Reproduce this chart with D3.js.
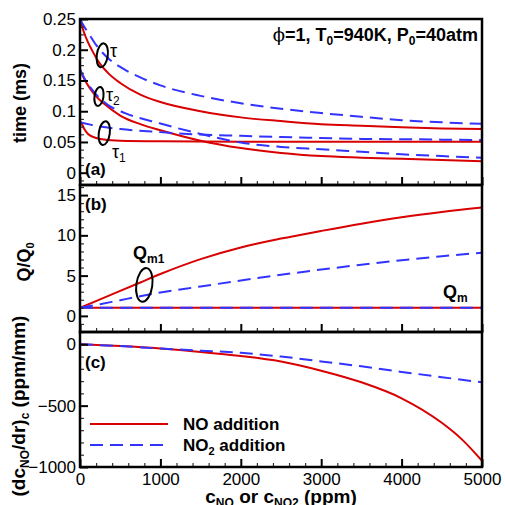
<!DOCTYPE html>
<html>
<head>
<meta charset="utf-8">
<script src="https://cdn.jsdelivr.net/npm/d3@7"></script>
<style>
  body { margin: 0; background: #fff; }
  text { font-family: "Liberation Sans", Arial, sans-serif; }
</style>
</head>
<body>
<div id="chart"></div>
<script>
// ---- data ----
const redTau   = [[0,0.25],[50,0.228],[100,0.212],[150,0.199],[250,0.177],[350,0.162],[500,0.146],[750,0.127],[1000,0.115],[1500,0.1],[2000,0.09],[2500,0.084],[3000,0.079],[3500,0.0765],[4000,0.074],[4500,0.072],[5000,0.071]];
const blueTau  = [[0,0.25],[50,0.238],[100,0.228],[200,0.208],[350,0.186],[500,0.172],[750,0.155],[1000,0.142],[1500,0.125],[2000,0.113],[2500,0.104],[3000,0.097],[3500,0.091],[4000,0.0855],[4500,0.082],[5000,0.0795]];
const redTau2  = [[0,0.168],[50,0.153],[125,0.137],[200,0.124],[300,0.112],[500,0.093],[750,0.079],[1000,0.069],[1500,0.052],[2000,0.040],[2500,0.032],[3000,0.027],[3500,0.0245],[4000,0.0225],[4500,0.0205],[5000,0.0185]];
const blueTau2 = [[0,0.168],[50,0.155],[190,0.129],[350,0.110],[560,0.097],[1000,0.080],[1500,0.063],[2000,0.049],[2500,0.042],[3000,0.038],[3500,0.034],[4000,0.030],[4500,0.027],[5000,0.0245]];
const redTau1  = [[0,0.083],[20,0.080],[50,0.072],[100,0.063],[200,0.0565],[300,0.054],[500,0.052],[1000,0.051],[2000,0.0505],[3000,0.0505],[4000,0.0505],[5000,0.0505]];
const blueTau1 = [[0,0.082],[250,0.075],[500,0.071],[1000,0.066],[1500,0.062],[2000,0.060],[2500,0.058],[3000,0.0565],[3500,0.055],[4000,0.0545],[4500,0.0538],[5000,0.053]];

const redQm1  = [[0,1.0],[250,2.05],[500,3.1],[750,4.15],[1000,5.2],[1500,7.05],[2000,8.5],[2500,9.6],[3000,10.55],[3500,11.45],[4000,12.25],[4500,12.9],[5000,13.45]];
const blueQm1 = [[0,1.0],[250,1.45],[500,1.95],[1000,2.9],[1500,3.65],[2000,4.4],[2500,5.1],[3000,5.75],[3500,6.35],[4000,6.9],[4500,7.4],[5000,7.85]];
const redQm   = [[0,1.0],[5000,1.0]];
const blueQm  = [[0,1.0],[5000,1.0]];

const redRate  = [[0,0],[500,-15],[1000,-35],[1500,-62],[2000,-95],[2500,-140],[3000,-215],[3500,-310],[4000,-440],[4500,-640],[4750,-775],[5000,-950]];
const blueRate = [[0,0],[500,-15],[1000,-35],[1500,-52],[2000,-70],[2500,-100],[3000,-140],[3500,-180],[4000,-225],[4500,-268],[5000,-310]];

const xTicks  = [0,1000,2000,3000,4000,5000];
const aTicks  = [0,0.05,0.1,0.15,0.2,0.25];
const bTicks  = [0,5,10,15];
const cTicks  = [0,-500,-1000];

// ---- layout ----
const W = 505, H = 505;
const left = 80, right = 482;
const red = "#d80000", blue = "#3333ff";
const dash = "13,7";

const svg = d3.select("#chart").append("svg")
  .attr("width", W).attr("height", H);

const x = d3.scaleLinear().domain([0, 5000]).range([left, right]);

const panels = [
  { top: 19,  bottom: 185, domain: [-0.02, 0.25], ticks: aTicks, minor: 0.0125, fmt: d => d3.format("~g")(d),
    series: [[redTau, red], [redTau2, red], [redTau1, red], [blueTau, blue], [blueTau2, blue], [blueTau1, blue]],
    tag: "(a)", tagY: 175 },
  { top: 185, bottom: 332, domain: [-2, 16.25], ticks: bTicks, minor: 1, fmt: d3.format("d"),
    series: [[redQm1, red], [redQm, red], [blueQm1, blue], [blueQm, blue]],
    tag: "(b)", tagY: 210 },
  { top: 332, bottom: 467, domain: [-1000, 100], ticks: cTicks, minor: 100, fmt: d3.format("d"),
    series: [[redRate, red], [blueRate, blue]],
    tag: "(c)", tagY: 368 }
];

panels.forEach((p, i) => {
  p.y = d3.scaleLinear().domain(p.domain).range([p.bottom, p.top]);
  const g = svg.append("g");

  const clipId = "clip" + i;
  svg.append("clipPath").attr("id", clipId).append("rect")
    .attr("x", left).attr("y", p.top).attr("width", right - left).attr("height", p.bottom - p.top);

  const line = d3.line().x(d => x(d[0])).y(d => p.y(d[1])).curve(d3.curveMonotoneX);
  p.series.forEach(([data, color]) => {
    g.append("path")
      .attr("clip-path", `url(#${clipId})`)
      .attr("d", line(data))
      .attr("fill", "none")
      .attr("stroke", color)
      .attr("stroke-width", 2)
      .attr("stroke-dasharray", color === blue ? dash : null);
  });

  // x ticks along bottom, pointing inward
  const xMinor = d3.range(0, 5001, 200).filter(v => v % 1000 !== 0);
  g.append("g").attr("transform", `translate(0,${p.bottom})`)
    .call(d3.axisBottom(x).tickValues(xMinor).tickSize(-4).tickFormat(""))
    .call(a => a.select(".domain").remove())
    .call(a => a.selectAll("line").attr("stroke", "#333").attr("stroke-width", 1.2));
  g.append("g").attr("transform", `translate(0,${p.bottom})`)
    .call(d3.axisBottom(x).tickValues(xTicks).tickSize(-8).tickFormat(i === 2 ? d3.format("d") : ""))
    .call(a => a.select(".domain").remove())
    .call(a => a.selectAll("line").attr("stroke", "#000").attr("stroke-width", 2))
    .call(a => a.selectAll("text").attr("y", 6).attr("font-size", 17).attr("fill", "#000")
      .attr("font-family", "Liberation Sans, Arial, sans-serif"));

  // y ticks along left, pointing inward
  const [lo, hi] = p.domain;
  const yMinor = d3.range(Math.ceil(lo / p.minor) * p.minor, hi + 1e-9, p.minor)
    .filter(v => !p.ticks.some(t => Math.abs(t - v) < 1e-9));
  g.append("g").attr("transform", `translate(${left},0)`)
    .call(d3.axisLeft(p.y).tickValues(yMinor).tickSize(-4).tickFormat(""))
    .call(a => a.select(".domain").remove())
    .call(a => a.selectAll("line").attr("stroke", "#333").attr("stroke-width", 1.2));
  g.append("g").attr("transform", `translate(${left},0)`)
    .call(d3.axisLeft(p.y).tickValues(p.ticks).tickSize(-8).tickFormat(p.fmt))
    .call(a => a.select(".domain").remove())
    .call(a => a.selectAll("line").attr("stroke", "#000").attr("stroke-width", 2))
    .call(a => a.selectAll("text").attr("x", -4).attr("font-size", 17).attr("fill", "#000")
      .attr("font-family", "Liberation Sans, Arial, sans-serif"));

  // frame
  g.append("rect")
    .attr("x", left).attr("y", p.top)
    .attr("width", right - left).attr("height", p.bottom - p.top)
    .attr("fill", "none").attr("stroke", "#000").attr("stroke-width", 2.5);

  g.append("text").attr("x", 85).attr("y", p.tagY)
    .attr("font-size", 17).attr("font-weight", "bold").text(p.tag);
});

const [pa, pb, pc] = panels;

// ---- annotations ----
function sub(sel, main, s, size, shift) {
  sel.append("tspan").text(main);
  sel.append("tspan").attr("font-size", size).attr("baseline-shift", shift || "-35%").text(s);
}

const ellipses = [
  [pa, 277, 0.191, 5.5, 12],
  [pa, 236, 0.124, 4.5, 9.5],
  [pa, 302, 0.0645, 5.5, 12],
  [pb, 800, 3.84, 8, 17]
];
ellipses.forEach(([p, cx, cy, rx, ry]) => {
  svg.append("ellipse")
    .attr("cx", x(cx)).attr("cy", p.y(cy)).attr("rx", rx).attr("ry", ry)
    .attr("transform", `rotate(8,${x(cx)},${p.y(cy)})`)
    .attr("fill", "none").attr("stroke", "#000").attr("stroke-width", 2);
});

svg.append("text").attr("x", x(373)).attr("y", pa.y(0.188))
  .attr("font-size", 18).attr("font-family", "DejaVu Serif, serif").text("τ");
svg.append("text").attr("x", x(323)).attr("y", pa.y(0.117))
  .attr("font-size", 18).attr("font-family", "DejaVu Serif, serif")
  .call(s => sub(s, "τ", "2", 12));
svg.append("text").attr("x", x(398)).attr("y", pa.y(0.024))
  .attr("font-size", 18).attr("font-family", "DejaVu Serif, serif")
  .call(s => sub(s, "τ", "1", 12));

svg.append("text").attr("x", x(659)).attr("y", pb.y(7.06))
  .attr("font-size", 18).attr("font-weight", "bold")
  .call(s => sub(s, "Q", "m1", 12));
svg.append("text").attr("x", x(4515)).attr("y", pb.y(2.23))
  .attr("font-size", 18).attr("font-weight", "bold")
  .call(s => sub(s, "Q", "m", 12));

svg.append("text").attr("x", 478).attr("y", 41)
  .attr("text-anchor", "end").attr("font-size", 18).attr("font-weight", "bold")
  .call(s => {
    s.append("tspan").attr("font-weight", "normal").attr("font-family", "DejaVu Serif, serif").text("ϕ");
    s.append("tspan").text("=1, T");
    s.append("tspan").attr("font-size", 12).attr("baseline-shift", "-35%").text("0");
    s.append("tspan").text("=940K, P");
    s.append("tspan").attr("font-size", 12).attr("baseline-shift", "-35%").text("0");
    s.append("tspan").text("=40atm");
  });

// ---- legend ----
const legend = [["NO addition", red, null], ["NO2 addition", blue, dash]];
legend.forEach(([label, color, dsh], i) => {
  const ly = 424 + i * 21;
  svg.append("line").attr("x1", 90).attr("x2", 168).attr("y1", ly).attr("y2", ly)
    .attr("stroke", color).attr("stroke-width", 2).attr("stroke-dasharray", dsh);
  const t = svg.append("text").attr("x", 183).attr("y", ly + 6)
    .attr("font-size", 17).attr("font-weight", "bold");
  if (i === 0) t.text(label);
  else {
    t.append("tspan").text("NO");
    t.append("tspan").attr("font-size", 11).attr("baseline-shift", "-35%").text("2");
    t.append("tspan").text(" addition");
  }
});

// ---- axis titles ----
svg.append("text").attr("transform", `translate(26,${103}) rotate(-90)`)
  .attr("text-anchor", "middle").attr("font-size", 18).attr("font-weight", "bold")
  .text("time (ms)");
svg.append("text").attr("transform", `translate(30,${262}) rotate(-90)`)
  .attr("text-anchor", "middle").attr("font-size", 18).attr("font-weight", "bold")
  .call(s => sub(s, "Q/Q", "0", 11));
svg.append("text").attr("transform", `translate(25,${406}) rotate(-90)`)
  .attr("text-anchor", "middle").attr("font-size", 19).attr("font-weight", "bold")
  .call(s => {
    s.append("tspan").text("(dc");
    s.append("tspan").attr("font-size", 12).attr("baseline-shift", "-35%").text("NO");
    s.append("tspan").text("/dr)");
    s.append("tspan").attr("font-size", 12).attr("baseline-shift", "-35%").text("c");
    s.append("tspan").text(" (ppm/mm)");
  });
svg.append("text").attr("x", (left + right) / 2).attr("y", 503)
  .attr("text-anchor", "middle").attr("font-size", 19).attr("font-weight", "bold")
  .call(s => {
    s.append("tspan").text("c");
    s.append("tspan").attr("font-size", 12).attr("baseline-shift", "-35%").text("NO");
    s.append("tspan").text(" or c");
    s.append("tspan").attr("font-size", 12).attr("baseline-shift", "-35%").text("NO2");
    s.append("tspan").text(" (ppm)");
  });
</script>
</body>
</html>
